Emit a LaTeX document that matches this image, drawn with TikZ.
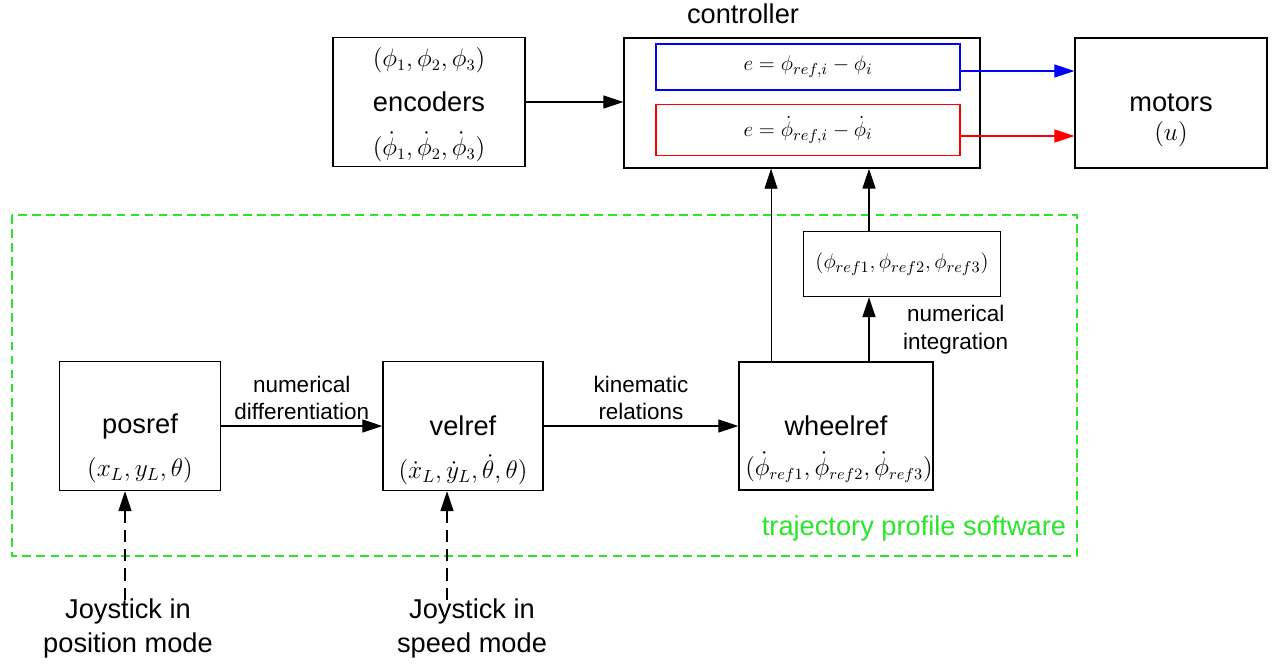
\documentclass[tikz,border=0pt]{standalone}
\usepackage{amsmath,amssymb}
\usepackage{fontspec}
\setmainfont{Liberation Sans}
\usepackage{tikz}
\usetikzlibrary{arrows.meta}
\definecolor{swgreen}{RGB}{40,230,40}

\begin{document}
\begin{tikzpicture}[x=0.02cm, y=-0.02cm,
		box_style/.style={draw=black, line width=0.8pt, fill=white, font=\fontsize{15.5}{18}\selectfont},
		math_style/.style={inner sep=0pt, font=\fontsize{13.5}{16}\selectfont},
		label_style/.style={align=center, font=\fontsize{12.8}{15.5}\selectfont},
		edge_style/.style={draw=black, line width=0.7pt, -{Triangle[length=0.4cm,width=0.26cm]}},
		dash_edge/.style={edge_style, dash pattern=on 7pt off 4pt}]

		\useasboundingbox (0,0) rectangle (1285,664);

		% top row
		\node[box_style, minimum width=3.84cm, minimum height=2.58cm] (enc) at (429,102) {encoders};
		\node[math_style] (enc1) at (429,60) {$(\phi_1,\phi_2,\phi_3)$};
		\node[math_style] (enc2) at (429,147) {$(\dot\phi_1,\dot\phi_2,\dot\phi_3)$};

		\node[box_style, minimum width=7.12cm, minimum height=2.6cm] (ctrl) at (802,103) {};
		\node[label_style, font=\fontsize{15.5}{18}\selectfont] (ctrltxt) at (743,14) {controller};
		\node[box_style, draw=blue, font=\fontsize{13}{15}\selectfont, minimum width=6.08cm, minimum height=0.92cm] (blue) at (808,67) {$e=\phi_{ref,i}-\phi_i$};
		\node[box_style, draw=red, font=\fontsize{13}{15}\selectfont, minimum width=6.08cm, minimum height=1.02cm] (red) at (808,130) {$e=\dot\phi_{ref,i}-\dot\phi_i$};

		\node[box_style, minimum width=3.84cm, minimum height=2.6cm] (mot) at (1171,103) {motors};
		\node[math_style] (mot1) at (1171,134) {$(u)$};

		% trajectory profile software
		\draw[swgreen, line width=0.8pt, dash pattern=on 5pt off 3pt] (12,215) rectangle (1077,556);
		\node[label_style, text=swgreen, font=\fontsize{15.5}{18}\selectfont] (tps) at (914,528) {trajectory profile software};

		\node[box_style, font=\fontsize{13}{15}\selectfont, minimum width=3.94cm, minimum height=1.3cm] (phiref) at (902,264) {$(\phi_{ref1},\phi_{ref2},\phi_{ref3})$};

		\node[box_style, minimum width=3.22cm, minimum height=2.58cm] (pos) at (140,426) {posref};
		\node[math_style, font=\fontsize{14.5}{16}\selectfont] (pos1) at (140,470) {$(x_L,y_L,\theta)$};
		\node[box_style, minimum width=3.2cm, minimum height=2.58cm] (vel) at (463,426) {velref};
		\node[math_style, font=\fontsize{14.5}{16}\selectfont] (vel1) at (463,470) {$(\dot x_L,\dot y_L,\dot\theta,\theta)$};
		\node[box_style, minimum width=3.88cm, minimum height=2.56cm] (wheel) at (836,426) {wheelref};
		\node[math_style] (wheel1) at (839,467) {$(\dot\phi_{ref1},\dot\phi_{ref2},\dot\phi_{ref3})$};

		% joysticks
		\node[label_style, font=\fontsize{15.5}{19.3}\selectfont] (joy1) at (128,628) {Joystick in\\position mode};
		\node[label_style, font=\fontsize{15.5}{19.3}\selectfont] (joy2) at (472,628) {Joystick in\\speed mode};
		\coordinate (j1) at (125,600);
		\coordinate (j2) at (447,600);
		\coordinate (w1) at (771,362);
		\coordinate (w2) at (869,362);

		\draw[edge_style] (enc.east) -- (enc.east -| ctrl.west);
		\draw[edge_style, draw=blue] ([yshift=-0.08cm]blue.east) -- ([yshift=-0.08cm]blue.east -| mot.west);
		\draw[edge_style, draw=red] ([yshift=-0.12cm]red.east) -- ([yshift=-0.12cm]red.east -| mot.west);
		\draw[edge_style] (pos.east) -- node[label_style, above] {numerical\\differentiation} (vel.west);
		\draw[edge_style] (vel.east) -- node[label_style, above] {kinematic\\relations} (wheel.west);
		\draw[edge_style, line width=0.5pt] (w1) -- (w1 |- ctrl.south);
		\draw[edge_style, line width=1pt] (w2) -- node[label_style, right=0.55cm] {numerical\\integration} (w2 |- phiref.south);
		\draw[edge_style, line width=1pt] (w2 |- phiref.north) -- (w2 |- ctrl.south);
		\draw[dash_edge] (j1) -- (j1 |- pos.south);
		\draw[dash_edge] (j2) -- (j2 |- vel.south);

\end{tikzpicture}
\end{document}
